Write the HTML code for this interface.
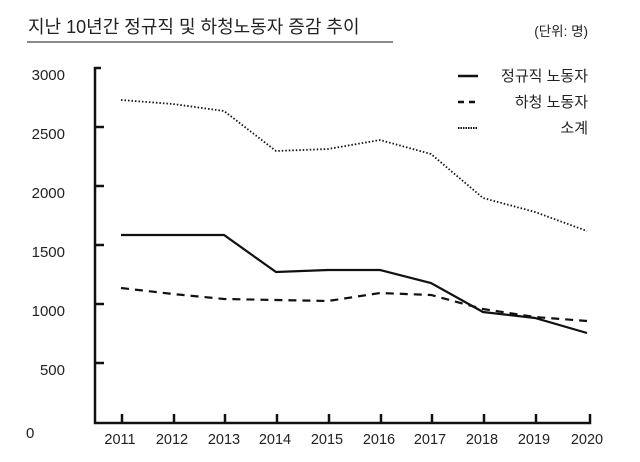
<!DOCTYPE html>
<html><head><meta charset="utf-8"><style>
body{margin:0;background:#fff;}
svg{display:block;font-family:"Liberation Sans","Noto Sans CJK KR",sans-serif;}
</style></head><body>
<svg width="640" height="462" viewBox="0 0 640 462">
<text x="28" y="33" font-size="18" fill="#222">지난 10년간 정규직 및 하청노동자 증감 추이</text>
<line x1="27" y1="42" x2="393" y2="42" stroke="#444" stroke-width="1.2"/>
<text x="588" y="36" font-size="13.5" fill="#222" text-anchor="end">(단위: 명)</text>
<g font-size="15" fill="#222" text-anchor="end">
<text x="65" y="80">3000</text><text x="65" y="139">2500</text><text x="65" y="198">2000</text>
<text x="65" y="257">1500</text><text x="65" y="316">1000</text><text x="65" y="375">500</text>
</g>
<text x="26" y="438" font-size="15" fill="#222">0</text>
<g stroke="#111" stroke-width="2.5" fill="none">
<polyline points="101,68 95,68 95,423 590,423 590,414"/>
<line x1="95" y1="127" x2="104" y2="127"/><line x1="95" y1="186" x2="104" y2="186"/>
<line x1="95" y1="245" x2="104" y2="245"/><line x1="95" y1="304" x2="104" y2="304"/>
<line x1="95" y1="363" x2="104" y2="363"/>
<line x1="122" y1="414" x2="122" y2="423"/><line x1="174" y1="414" x2="174" y2="423"/>
<line x1="225" y1="414" x2="225" y2="423"/><line x1="277" y1="414" x2="277" y2="423"/>
<line x1="329" y1="414" x2="329" y2="423"/><line x1="381" y1="414" x2="381" y2="423"/>
<line x1="432" y1="414" x2="432" y2="423"/><line x1="484" y1="414" x2="484" y2="423"/>
<line x1="536" y1="414" x2="536" y2="423"/>
</g>
<g font-size="14.5" fill="#222" text-anchor="middle">
<text x="120" y="444">2011</text><text x="172" y="444">2012</text><text x="224" y="444">2013</text>
<text x="275" y="444">2014</text><text x="327" y="444">2015</text><text x="379" y="444">2016</text>
<text x="430" y="444">2017</text><text x="482" y="444">2018</text><text x="534" y="444">2019</text>
<text x="587" y="444">2020</text>
</g>
<polyline fill="none" stroke="#111" stroke-width="1.8" stroke-dasharray="1.5,2" points="121,100 173,104 224,111 276,151 328,149 380,140 431,154 483,198 535,212 587,231"/>
<polyline fill="none" stroke="#111" stroke-width="2.2" points="121,235 173,235 224,235 276,272 328,270 380,270 431,283 483,312 535,318 587,333"/>
<polyline fill="none" stroke="#111" stroke-width="2.2" stroke-dasharray="8,6" points="121,288 173,294 224,299 276,300 328,301 380,293 431,295 483,309 535,317 587,321"/>
<line x1="458" y1="76" x2="478" y2="76" stroke="#111" stroke-width="2.5"/>
<line x1="458" y1="102" x2="478" y2="102" stroke="#111" stroke-width="2.5" stroke-dasharray="6,5"/>
<line x1="458" y1="128" x2="478" y2="128" stroke="#111" stroke-width="2" stroke-dasharray="1.5,1"/>
<g font-size="15" fill="#222" text-anchor="end">
<text x="588" y="81">정규직 노동자</text><text x="588" y="107">하청 노동자</text><text x="588" y="133">소계</text>
</g>
</svg>
</body></html>
